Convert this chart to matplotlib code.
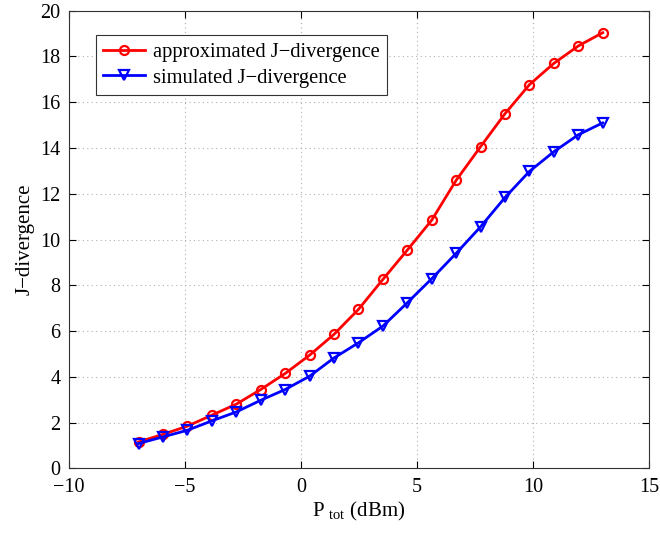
import matplotlib
matplotlib.use("Agg")
import matplotlib.pyplot as plt
import numpy as np

# data
p_tot = np.linspace(-7, 13, 20)
approx_j = [1.16, 1.49, 1.85, 2.33, 2.81, 3.45, 4.15, 4.95, 5.86, 6.95,
            8.26, 9.54, 10.85, 12.59, 14.06, 15.50, 16.77, 17.70, 18.46, 19.04]
sim_j = [1.09, 1.38, 1.67, 2.08, 2.47, 2.98, 3.45, 4.03, 4.83, 5.49,
         6.22, 7.24, 8.29, 9.40, 10.56, 11.84, 12.98, 13.84, 14.58, 15.10]

x_ticks = [-10, -5, 0, 5, 10, 15]
y_ticks = list(range(0, 21, 2))

plt.rcParams["font.family"] = ["Liberation Serif", "DejaVu Serif"]
plt.rcParams["mathtext.fontset"] = "custom"
plt.rcParams["mathtext.rm"] = "Liberation Serif"

fig = plt.figure(figsize=(6.6, 5.36), dpi=100)
ax = fig.add_axes([0.1045, 0.126, 0.879, 0.854])

ax.plot(p_tot, approx_j, color="red", lw=2, marker="o", ms=6.5,
        mfc="none", mew=1.6, label="approximated J\u2212divergence")
ax.plot(p_tot, sim_j, color="blue", lw=2, marker="v", ms=7.5,
        mfc="none", mew=1.6, label="simulated J\u2212divergence")

ax.set_xlim(-10, 15)
ax.set_ylim(0, 20)
ax.set_xticks(x_ticks)
ax.set_yticks(y_ticks)
ax.set_xticklabels([str(t).replace("-", "\u2212") for t in x_ticks])
ax.tick_params(direction="in", top=True, right=True, labelsize=14.5,
               length=5, width=0.8)
ax.tick_params(axis="y", pad=6)
ax.tick_params(axis="x", pad=7)
ax.grid(True, linestyle=(0, (1, 3)), color="#b0b0b0", lw=0.8)
for s in ax.spines.values():
    s.set_color("#333333")

ax.set_xlabel(r"P$_{\mathrm{\ tot}}$ (dBm)", fontsize=15, labelpad=2)
ax.set_ylabel("J\u2212divergence", fontsize=15, labelpad=4)

leg = ax.legend(loc="upper left", bbox_to_anchor=(0.04, 0.955), fontsize=14.8,
                fancybox=False, edgecolor="#333333", framealpha=1,
                handlelength=2.0, borderpad=0.35, labelspacing=0.3,
                handletextpad=0.4, borderaxespad=0.2)
leg.get_frame().set_linewidth(0.8)

fig.savefig("out.png", dpi=100)
